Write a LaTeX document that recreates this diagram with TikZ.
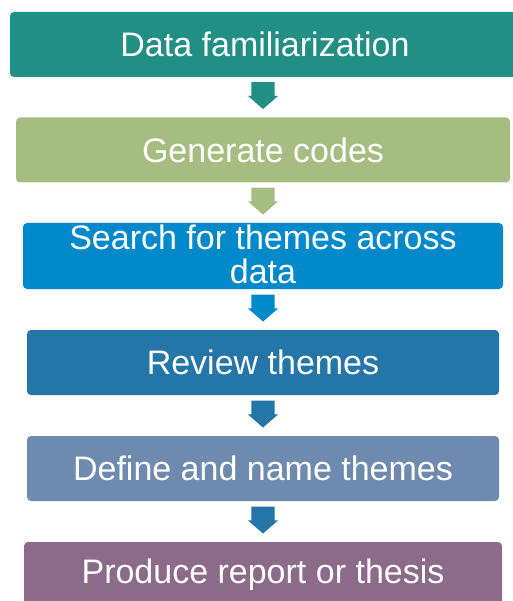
\documentclass[tikz,border=0pt]{standalone}
\usepackage{fontspec}
\setmainfont{Liberation Sans}
\usetikzlibrary{calc,positioning,shapes.arrows}
\definecolor{teal1}{HTML}{218F84}
\definecolor{olive1}{HTML}{A6BD81}
\definecolor{cyan1}{HTML}{0289CC}
\definecolor{blue1}{HTML}{2475A8}
\definecolor{slate1}{HTML}{6E8BAF}
\definecolor{plum1}{HTML}{8C6A8A}
\tikzstyle{stage} = [rectangle, rounded corners=4pt, text=white, inner sep=0pt, minimum height=65pt, font=\fontsize{34}{34}\selectfont, align=center, text centered]
\tikzstyle{flow}  = [single arrow, shape border rotate=270, anchor=tip, inner xsep=11.5pt, inner ysep=0pt, minimum height=27pt, minimum width=30pt, single arrow head extend=3.5pt, single arrow tip angle=98]

\begin{document}
\begin{tikzpicture}[x=1pt, y=1pt]
      \useasboundingbox (0,0) rectangle (512,-601);
      \node[stage, fill=teal1, minimum width=510pt] (fam) at (265,-44.5) {Data familiarization};
      \node[stage, fill=olive1, minimum width=494pt] (codes) at (263,-150) {Generate codes};
      \node[stage, fill=cyan1, minimum width=480pt, minimum height=66pt] (search) at (263,-256) {};
      \node[font=\fontsize{34}{34}\selectfont, text=white, align=center, anchor=base] (searchtxt) at (263,-283) {Search for themes across\\data};
      \node[stage, fill=blue1, minimum width=472pt] (review) at (263,-362.5) {Review themes};
      \node[stage, fill=slate1, minimum width=472pt] (define) at (263,-468.5) {Define and name themes};
      \node[stage, fill=plum1, minimum width=478pt] (report) at (263,-574.5) {Produce report or thesis};
      % block arrows, tip just above the next stage
      \node[flow, fill=teal1]  (a1) at ($(codes.north)+(0,8)$) {};
      \node[flow, fill=olive1] (a2) at ($(search.north)+(0,8)$) {};
      \node[flow, fill=cyan1]  (a3) at ($(review.north)+(0,8)$) {};
      \node[flow, fill=blue1]  (a4) at ($(define.north)+(0,8)$) {};
      \node[flow, fill=blue1]  (a5) at ($(report.north)+(0,8)$) {};
    \end{tikzpicture}
\end{document}
